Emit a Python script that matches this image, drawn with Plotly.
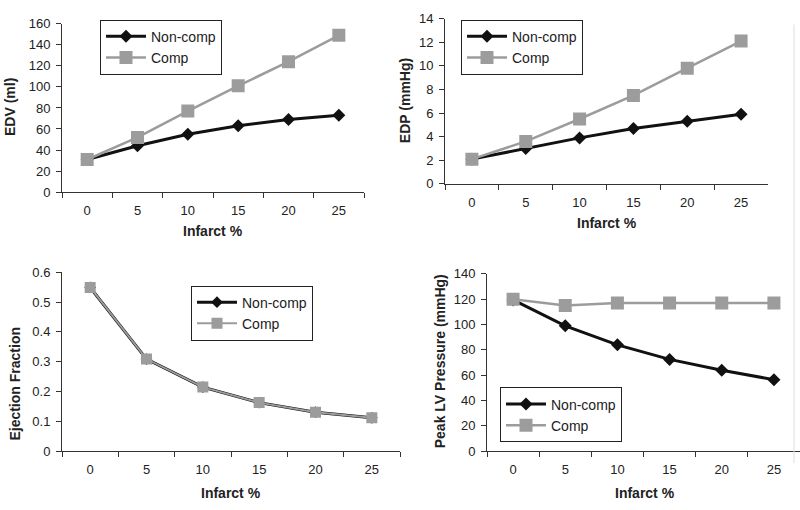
import plotly.graph_objects as go

W, H = 800, 510

infarct = ["0", "5", "10", "15", "20", "25"]

edv_noncomp = [31, 44, 55, 63, 69, 73]
edv_comp = [31, 52, 77, 101, 124, 149]

edp_noncomp = [2.1, 3.0, 3.9, 4.7, 5.3, 5.9]
edp_comp = [2.1, 3.6, 5.5, 7.5, 9.8, 12.1]

ef_noncomp = [0.549, 0.309, 0.215, 0.163, 0.131, 0.112]
ef_comp = [0.549, 0.309, 0.215, 0.163, 0.131, 0.112]

plv_noncomp = [119.5, 99, 84, 72.5, 64, 56.5]
plv_comp = [120, 115, 117, 117, 117, 117]

y_titles = ["EDV (ml)", "EDP (mmHg)", "Ejection Fraction", "Peak LV Pressure (mmHg)"]
x_title = "Infarct %"

BLACK = "#111111"
GRAY = "#9c9c9c"
TXT = "#222222"
FONT = "Liberation Sans, Arial, sans-serif"

fig = go.Figure()

# (pixel left, right, bottom, top) of each plot area
boxes = [
    (62, 364, 190.7, 17.3),
    (445, 768, 182.3, 12.0),
    (62, 400, 457.7, 273.3),
    (487, 800, 457.7, 275.0),
]
yranges = [(0, 160, 20), (0, 14, 2), (0, 0.6, 0.1), (0, 140, 20)]
data = [
    (edv_noncomp, edv_comp),
    (edp_noncomp, edp_comp),
    (ef_noncomp, ef_comp),
    (plv_noncomp, plv_comp),
]
legend_pos = [(100, 13), (461, 13), (191, 287), (500, 392)]

for i, ((nc, cp), (l, r, b, t), (y0, y1, dt), (lx, ly)) in enumerate(
        zip(data, boxes, yranges, legend_pos)):
    n = "" if i == 0 else str(i + 1)
    xa, ya, lg = "x" + n, "y" + n, "legend" + n
    thin = (i == 2)
    fig.add_trace(go.Scatter(
        x=infarct, y=nc, name="Non-comp", mode="lines+markers",
        line=dict(color=BLACK, width=3),
        marker=dict(symbol="diamond", size=10 if not thin else 9, color=BLACK),
        xaxis=xa, yaxis=ya, legend=lg))
    fig.add_trace(go.Scatter(
        x=infarct, y=cp, name="Comp", mode="lines+markers",
        line=dict(color=GRAY, width=2.5 if not thin else 2),
        marker=dict(symbol="square", size=13 if not thin else 11, color=GRAY),
        xaxis=xa, yaxis=ya, legend=lg))

    axis_common = dict(
        showline=True, linecolor="#333333", linewidth=1, showgrid=False,
        zeroline=False, ticks="outside", ticklen=5, tickcolor="#333333",
        tickfont=dict(family=FONT, size=13, color=TXT),
    )
    fig.layout["xaxis" + n] = dict(
        axis_common, type="category", domain=[l / W, r / W],
        range=[-0.5, 5.5], tickson="boundaries", anchor=ya,
        ticklabelstandoff=6,
    )
    fig.layout["yaxis" + n] = dict(
        axis_common, domain=[1 - b / H, 1 - t / H], range=[y0, y1],
        dtick=dt, tick0=0, anchor=xa, ticklabelstandoff=3,
    )
    fig.layout[lg] = dict(
        x=lx / W, y=1 - ly / H, xanchor="left", yanchor="top",
        bgcolor="white", bordercolor="#222222", borderwidth=1,
        font=dict(family=FONT, size=14, color=TXT),
        itemwidth=40, tracegroupgap=0,
    )

# axis titles
ytitle_pos = [(10, 103), (405, 97), (15, 388), (440, 365)]
xtitle_pos = [(213, 231), (607, 223), (231, 501), (645, 501)]
for txt, (px, py) in zip(y_titles, ytitle_pos):
    fig.add_annotation(x=px / W, y=1 - py / H, xref="paper", yref="paper",
                       text="<b>" + txt + "</b>", showarrow=False, textangle=-90,
                       font=dict(family=FONT, size=14, color=TXT),
                       xanchor="center", yanchor="middle")
for px, py in xtitle_pos:
    fig.add_annotation(x=px / W, y=1 - py / H, xref="paper", yref="paper",
                       text="<b>" + x_title + "</b>", showarrow=False,
                       font=dict(family=FONT, size=14, color=TXT),
                       xanchor="center", yanchor="middle")

# faint scan edge line at the right
fig.add_shape(type="line", xref="paper", yref="paper",
              x0=794 / W, x1=794 / W, y0=1 - 18 / H, y1=1 - 470 / H,
              line=dict(color="#dddddd", width=1))

fig.update_layout(
    width=W, height=H, margin=dict(l=0, r=0, t=0, b=0),
    paper_bgcolor="white", plot_bgcolor="white",
    showlegend=True,
)

fig.write_html(
    "out.html",
    config={"displayModeBar": False},
    post_script="document.body.style.margin='0px';document.body.style.overflow='hidden';",
)
